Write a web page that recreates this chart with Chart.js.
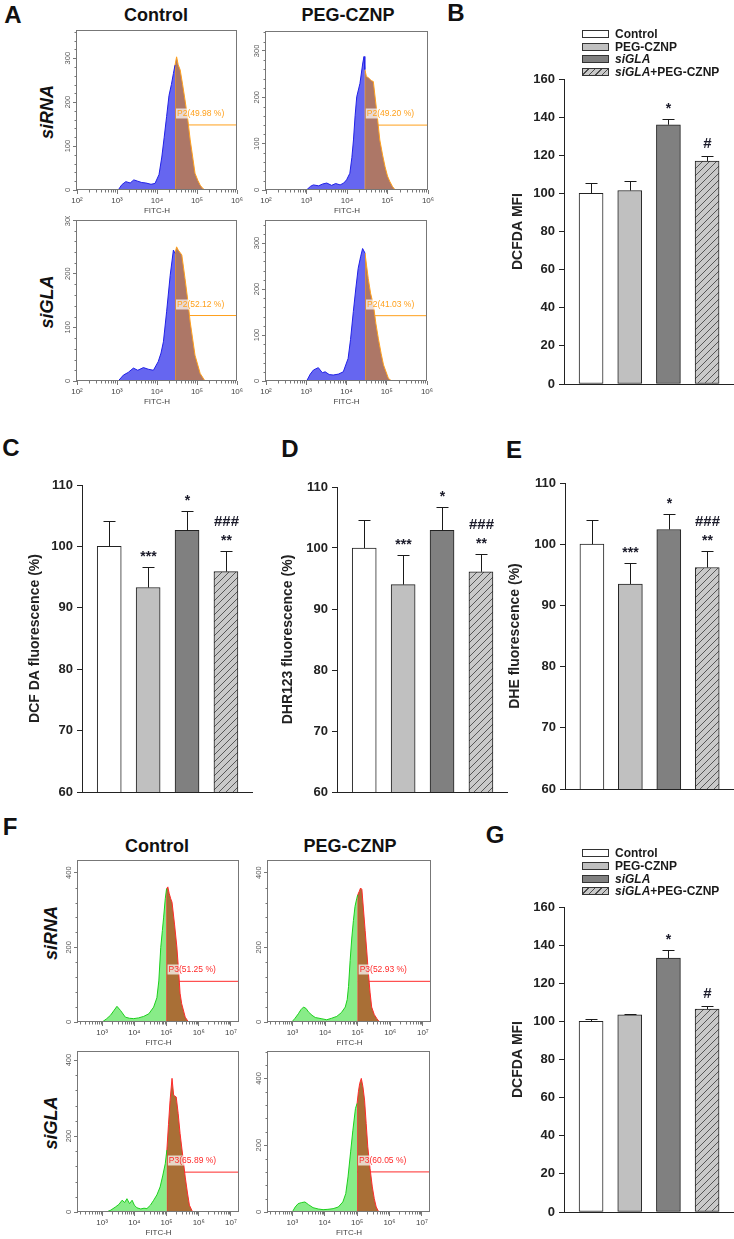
<!DOCTYPE html>
<html lang="en">
<head>
<meta charset="UTF-8">
<meta name="viewport" content="width=device-width, initial-scale=1.0">
<title>GLA knockdown ROS panels</title>
<script src="https://cdn.jsdelivr.net/npm/chart.js"></script>
<style>
  body { margin: 0; background: #fff; }
  #fig { position: relative; width: 734px; height: 1239px; overflow: hidden;
         font-family: "Liberation Sans", Arial, sans-serif; color: #111; }
  #fig canvas { position: absolute; }
  .t { position: absolute; white-space: nowrap; font-weight: bold; line-height: 1;
       transform: translate(-50%, -50%); }
  .letter { font-size: 24px; }
  .col { font-size: 18px; }
  .row { font-size: 18px; font-style: italic; transform: translate(-50%, -50%) rotate(-90deg); }
  .leg { position: absolute; left: 582px; height: 12px; font-size: 12px; font-weight: bold; line-height: 12px; color: #1a1a1a; }
  .leg .box { position: absolute; left: 0; top: 2px; width: 25px; height: 6px; border: 1px solid #333; }
  .leg .lab { position: absolute; left: 33px; white-space: nowrap; }
</style>
</head>
<body>
<div id="fig">
  <div class="t letter" style="left:13px;top:15px">A</div>
  <div class="t letter" style="left:456px;top:13px">B</div>
  <div class="t letter" style="left:11px;top:448px">C</div>
  <div class="t letter" style="left:290px;top:449px">D</div>
  <div class="t letter" style="left:514px;top:450px">E</div>
  <div class="t letter" style="left:10px;top:827px">F</div>
  <div class="t letter" style="left:495px;top:835px">G</div>

  <div class="t col" style="left:156px;top:15px">Control</div>
  <div class="t col" style="left:348px;top:15px">PEG-CZNP</div>
  <div class="t col" style="left:157px;top:846px">Control</div>
  <div class="t col" style="left:350px;top:846px">PEG-CZNP</div>

  <div class="t row" style="left:47px;top:112px">siRNA</div>
  <div class="t row" style="left:47px;top:302px">siGLA</div>
  <div class="t row" style="left:51px;top:933px">siRNA</div>
  <div class="t row" style="left:51px;top:1123px">siGLA</div>

  <canvas id="a1"></canvas><canvas id="a2"></canvas>
  <canvas id="a3"></canvas><canvas id="a4"></canvas>
  <canvas id="chartB"></canvas>
  <canvas id="chartC"></canvas><canvas id="chartD"></canvas><canvas id="chartE"></canvas>
  <canvas id="f1"></canvas><canvas id="f2"></canvas>
  <canvas id="f3"></canvas><canvas id="f4"></canvas>
  <canvas id="chartG"></canvas>
</div>
<script>
Chart.defaults.font.family = '"Liberation Sans", Arial, sans-serif';

// ---- bar panels ----
const groups = ['Control', 'PEG-CZNP', 'siGLA', 'siGLA+PEG-CZNP'];
const groupPos = [1, 2, 3, 4];

const mfiB = [100, 101.5, 136, 117];
const mfiBErr = [5.5, 5, 3.2, 2.5];
const starsB = ['', '', '*', ''];
const hashB = ['', '', '', '#'];

const dcfC = [100, 93.3, 102.6, 95.9];
const dcfCErr = [4.2, 3.3, 3.1, 3.3];
const dhrD = [100, 94.0, 102.9, 96.1];
const dhrDErr = [4.6, 4.9, 3.9, 2.9];
const dheE = [100, 93.5, 102.4, 96.2];
const dheEErr = [4.0, 3.4, 2.5, 2.7];
const starsCDE = ['', '***', '*', '**'];
const hashCDE = ['', '', '', '###'];

const mfiG = [100, 103.4, 133.2, 106.5];
const mfiGErr = [1.5, 0.4, 4.4, 1.4];
const starsG = ['', '', '*', ''];
const hashG = ['', '', '', '#'];

const ticksMfi = [0, 20, 40, 60, 80, 100, 120, 140, 160];
const ticksPct = [60, 70, 80, 90, 100, 110];

// ---- flow cytometry histograms (x = log10 FITC-H, y = count) ----
const xTicksA = [2, 3, 4, 5, 6];
const yTicksA = [0, 100, 200, 300];
const xTicksF = [3, 4, 5, 6, 7];
const yTicksF = [0, 200, 400];

const a1Log = [3.03, 3.12, 3.22, 3.33, 3.42, 3.52, 3.62, 3.72, 3.85, 3.95, 4.05, 4.12, 4.18, 4.24, 4.30, 4.36, 4.41, 4.45, 4.49, 4.53, 4.58, 4.64, 4.70, 4.77, 4.83, 4.90, 4.95, 5.02, 5.08, 5.14, 5.20];
const a1Count = [0, 12, 19, 16, 23, 20, 17, 16, 13, 15, 35, 75, 120, 167, 215, 240, 265, 284, 303, 285, 273, 240, 205, 160, 114, 70, 38, 22, 11, 4, 0];
const a2Log = [3.00, 3.10, 3.17, 3.30, 3.40, 3.50, 3.62, 3.72, 3.83, 3.92, 3.99, 4.07, 4.12, 4.16, 4.20, 4.24, 4.32, 4.39, 4.42, 4.44, 4.48, 4.53, 4.60, 4.65, 4.73, 4.81, 4.88, 4.94, 5.00, 5.06, 5.12, 5.19];
const a2Count = [0, 8, 11, 9, 13, 15, 10, 14, 11, 15, 22, 36, 70, 108, 160, 201, 230, 274, 288, 260, 245, 242, 236, 234, 173, 108, 75, 50, 30, 18, 8, 0];
const a3Log = [3.03, 3.16, 3.28, 3.41, 3.52, 3.66, 3.78, 3.91, 4.03, 4.10, 4.16, 4.24, 4.33, 4.41, 4.45, 4.49, 4.53, 4.62, 4.70, 4.77, 4.83, 4.95, 5.08, 5.20];
const a3Count = [0, 11, 16, 24, 20, 25, 22, 20, 36, 52, 73, 129, 197, 244, 238, 250, 244, 235, 191, 150, 110, 48, 14, 0];
const a4Log = [3.01, 3.10, 3.18, 3.30, 3.40, 3.47, 3.57, 3.67, 3.80, 3.92, 4.04, 4.10, 4.17, 4.23, 4.29, 4.35, 4.40, 4.46, 4.50, 4.54, 4.60, 4.67, 4.73, 4.79, 4.86, 4.92, 5.04, 5.12];
const a4Count = [0, 15, 24, 29, 18, 20, 14, 13, 15, 20, 49, 90, 151, 200, 245, 270, 288, 278, 250, 223, 190, 165, 125, 93, 60, 35, 6, 0];
const aGate = [4.45, 4.44, 4.45, 4.46];
const aGateY = [148, 140, 122, 142];
const aPct = ['49.98', '49.20', '52.12', '41.03'];
const aYMax = [364, 343, 300, 350];

const f1Log = [3.00, 3.13, 3.26, 3.36, 3.46, 3.57, 3.72, 3.85, 3.98, 4.13, 4.29, 4.45, 4.60, 4.70, 4.76, 4.82, 4.87, 4.91, 4.96, 5.00, 5.04, 5.08, 5.13, 5.17, 5.25, 5.32, 5.38, 5.42, 5.47, 5.58, 5.68];
const f1Count = [0, 8, 18, 30, 42, 31, 13, 10, 9, 11, 15, 22, 40, 65, 110, 200, 245, 281, 330, 357, 362, 345, 330, 321, 260, 201, 130, 77, 49, 13, 0];
const f2Log = [2.98, 3.08, 3.18, 3.26, 3.34, 3.42, 3.49, 3.60, 3.70, 3.88, 4.05, 4.20, 4.36, 4.50, 4.62, 4.68, 4.72, 4.77, 4.82, 4.87, 4.92, 4.97, 5.00, 5.05, 5.09, 5.13, 5.18, 5.23, 5.28, 5.33, 5.38, 5.43, 5.51, 5.59, 5.67];
const f2Count = [0, 10, 22, 33, 40, 36, 27, 18, 12, 9, 6, 10, 15, 25, 40, 60, 95, 165, 225, 272, 310, 330, 340, 350, 359, 355, 300, 245, 190, 130, 80, 40, 20, 9, 0];
const f3Log = [3.13, 3.27, 3.41, 3.52, 3.62, 3.70, 3.77, 3.85, 3.93, 4.00, 4.08, 4.20, 4.30, 4.39, 4.50, 4.60, 4.70, 4.80, 4.88, 4.96, 5.01, 5.06, 5.11, 5.17, 5.22, 5.26, 5.30, 5.36, 5.42, 5.50, 5.58, 5.65, 5.71, 5.81];
const f3Count = [0, 5, 13, 20, 31, 25, 35, 22, 31, 18, 11, 8, 10, 9, 18, 31, 45, 66, 95, 127, 163, 230, 294, 352, 308, 305, 303, 260, 207, 150, 92, 50, 18, 0];
const f4Log = [3.00, 3.09, 3.18, 3.28, 3.39, 3.50, 3.64, 3.80, 3.95, 4.10, 4.26, 4.42, 4.56, 4.65, 4.72, 4.80, 4.87, 4.95, 5.00, 5.04, 5.08, 5.13, 5.18, 5.23, 5.28, 5.33, 5.40, 5.47, 5.53, 5.59, 5.67];
const f4Count = [0, 15, 25, 28, 30, 22, 13, 9, 7, 8, 10, 15, 30, 55, 105, 180, 245, 310, 325, 360, 385, 400, 375, 335, 265, 195, 130, 75, 40, 15, 0];
const fGate = [5.00, 5.00, 5.01, 5.00];
const fGateY = [109, 109, 105, 120];
const fPct = ['51.25', '52.93', '65.89', '60.05'];
const fYMax = [434, 434, 424, 482];

const sup = { 2: '\u00b2', 3: '\u00b3', 4: '\u2074', 5: '\u2075', 6: '\u2076', 7: '\u2077' };
const palA = { fillLo: '#6666f0', lineLo: '#2020e8', fillHi: '#ad7767', lineHi: '#ffa01c' };
const palF = { fillLo: '#88ec88', lineLo: '#1ccf1c', fillHi: '#a96f36', lineHi: '#ff2a2a' };

function hatchPattern() {
  const c = document.createElement('canvas');
  c.width = 7; c.height = 7;
  const g = c.getContext('2d');
  g.fillStyle = '#c9c9c9'; g.fillRect(0, 0, 7, 7);
  g.strokeStyle = '#4a4a4a'; g.lineWidth = 0.9;
  g.beginPath();
  g.moveTo(-1, 8); g.lineTo(8, -1);
  g.moveTo(-1, 1); g.lineTo(1, -1);
  g.moveTo(6, 8); g.lineTo(8, 6);
  g.stroke();
  return g.createPattern(c, 'repeat');
}
const barFills = ['#ffffff', '#c0c0c0', '#808080', hatchPattern()];
const legendFills = ['#ffffff', '#c0c0c0', '#808080',
  'repeating-linear-gradient(135deg, #c9c9c9 0 3.5px, #4a4a4a 3.5px 4.5px)'];

function legend(top) {
  const fig = document.getElementById('fig');
  groups.forEach((g, i) => {
    const row = document.createElement('div');
    row.className = 'leg';
    row.style.top = (top + i * 12.7 - 6) + 'px';
    const box = document.createElement('span');
    box.className = 'box';
    box.style.background = legendFills[i];
    const lab = document.createElement('span');
    lab.className = 'lab';
    lab.innerHTML = g.replace('siGLA', '<i>siGLA</i>');
    row.append(box, lab);
    fig.append(row);
  });
}

function barChart(id, box, vals, errs, stars, hashes, yTicks, title) {
  const padTop = 12, padBottom = 10, xAxisH = 2;
  const cv = document.getElementById(id);
  const left = box.l - box.axisW, top = box.t - padTop;
  cv.width = box.r + 1 - left;
  cv.height = box.b + xAxisH + padBottom - top;
  cv.style.left = left + 'px';
  cv.style.top = top + 'px';

  // error bars and significance marks
  const marks = {
    id: 'marks',
    afterDatasetsDraw(chart) {
      const { ctx, scales: { x, y } } = chart;
      ctx.save();
      ctx.strokeStyle = '#1a1a1a';
      ctx.lineWidth = 1;
      vals.forEach((v, i) => {
        const px = Math.round(x.getPixelForValue(groupPos[i])) + 0.5;
        const yb = y.getPixelForValue(v);
        const ye = Math.round(y.getPixelForValue(v + errs[i])) + 0.5;
        ctx.beginPath();
        ctx.moveTo(px, yb); ctx.lineTo(px, ye);
        ctx.moveTo(px - 6, ye); ctx.lineTo(px + 6, ye);
        ctx.stroke();
        ctx.fillStyle = '#1b1b2a';
        ctx.textAlign = 'center';
        ctx.textBaseline = 'middle';
        let yy = ye - 13;
        if (stars[i]) {
          ctx.font = 'bold 14px "Liberation Sans", Arial';
          ctx.fillText(stars[i], px, yy + 3);
          yy -= 17;
        }
        if (hashes[i]) {
          ctx.font = 'bold 15px "Liberation Sans", Arial';
          ctx.fillText(hashes[i], px, yy);
        }
      });
      ctx.restore();
    }
  };

  new Chart(cv, {
    type: 'bar',
    data: {
      datasets: [{
        data: vals.map((v, i) => ({ x: groupPos[i], y: v })),
        backgroundColor: barFills,
        borderColor: '#222',
        borderWidth: 1,
        borderSkipped: false,
        barThickness: 24
      }]
    },
    options: {
      responsive: false, animation: false, devicePixelRatio: 1,
      layout: { padding: { top: padTop, right: 1, bottom: padBottom, left: 0 } },
      plugins: { legend: { display: false }, tooltip: { enabled: false } },
      scales: {
        x: {
          type: 'linear', min: 0.3, max: 4.67, offset: false,
          ticks: { display: false }, grid: { display: false },
          border: { color: '#222' },
          afterFit: s => { s.height = xAxisH; }
        },
        y: {
          min: yTicks[0], max: yTicks[yTicks.length - 1],
          afterBuildTicks: s => { s.ticks = yTicks.map(v => ({ value: v })); },
          ticks: { font: { size: 13, weight: 'bold' }, color: '#222', padding: 4 },
          grid: { drawOnChartArea: false, tickLength: 5, color: '#222' },
          border: { color: '#222' },
          title: { display: true, text: title, font: { size: 14, weight: 'bold' }, color: '#222', padding: 0 },
          afterFit: s => { s.width = box.axisW; }
        }
      }
    },
    plugins: [marks]
  });
}

function histChart(id, h) {
  const axisW = 24, padTop = 4, padRight = 10, xAxisH = 26;
  const cv = document.getElementById(id);
  const left = h.box.l - axisW, top = h.box.t - padTop;
  cv.width = h.box.r - left + padRight;
  cv.height = h.box.b + xAxisH - top;
  cv.style.left = left + 'px';
  cv.style.top = top + 'px';

  const pts = h.logs.map((x, i) => ({ x: x, y: h.counts[i] }));
  const below = pts.filter(p => p.x <= h.gate);
  const above = [{ x: h.gate, y: 0 }].concat(pts.filter(p => p.x >= h.gate));

  const deco = {
    id: 'deco',
    afterDatasetsDraw(chart) {
      const { ctx, scales: { x, y } } = chart;
      const gx = x.getPixelForValue(h.gate);
      const gy = Math.round(y.getPixelForValue(h.gateY)) + 0.5;
      ctx.save();
      if (h.endTick) {
        ctx.strokeStyle = h.pal.lineHi;
        ctx.lineWidth = 1;
        const ex = x.getPixelForValue(h.xMax) - 0.5;
        ctx.beginPath(); ctx.moveTo(ex, gy - 4); ctx.lineTo(ex, gy + 4); ctx.stroke();
      }
      ctx.font = '8.5px "Liberation Sans", Arial';
      const w = ctx.measureText(h.label).width;
      ctx.fillStyle = 'rgba(255,255,255,0.72)';
      ctx.fillRect(gx + 1, gy - 17, w + 2, 10);
      ctx.fillStyle = h.pal.lineHi;
      ctx.textBaseline = 'middle';
      ctx.fillText(h.label, gx + 2, gy - 12);
      ctx.restore();
    },
    afterDraw(chart) {
      const { ctx, chartArea: a, scales: { x, y } } = chart;
      ctx.save();
      ctx.strokeStyle = '#777';
      ctx.lineWidth = 1;
      ctx.beginPath();
      for (let n = Math.floor(h.xMin); n < h.xMax; n++) {
        for (let k = 2; k < 10; k++) {
          const v = n + Math.log10(k);
          if (v <= h.xMin || v >= h.xMax) continue;
          const px = Math.round(x.getPixelForValue(v)) + 0.5;
          ctx.moveTo(px, a.bottom); ctx.lineTo(px, a.bottom + 2.5);
        }
      }
      for (let v = h.yMinor; v < h.yMax; v += h.yMinor) {
        if (h.yTicks.includes(v)) continue;
        const py = Math.round(y.getPixelForValue(v)) + 0.5;
        ctx.moveTo(a.left, py); ctx.lineTo(a.left - 2.5, py);
      }
      ctx.stroke();
      const L = Math.round(a.left) - 0.5, R = Math.round(a.right) - 0.5;
      const T = Math.round(a.top) + 0.5, B = Math.round(a.bottom) - 0.5;
      ctx.strokeRect(L, T, R - L, B - T);
      ctx.fillStyle = '#555';
      ctx.font = '7.5px "Liberation Sans", Arial';
      ctx.textAlign = 'center';
      ctx.textBaseline = 'middle';
      y.ticks.forEach(t => {
        ctx.save();
        ctx.translate(a.left - 9, y.getPixelForValue(t.value));
        ctx.rotate(-Math.PI / 2);
        ctx.fillText(String(t.value), 0, 0);
        ctx.restore();
      });
      ctx.restore();
    }
  };

  new Chart(cv, {
    type: 'line',
    data: {
      datasets: [
        { data: below, borderColor: h.pal.lineLo, backgroundColor: h.pal.fillLo, fill: 'origin' },
        { data: above, borderColor: h.pal.lineHi, backgroundColor: h.pal.fillHi, fill: 'origin' },
        { data: [{ x: h.gate, y: h.gateY }, { x: h.xMax, y: h.gateY }], borderColor: h.pal.lineHi, fill: false }
      ]
    },
    options: {
      responsive: false, animation: false, devicePixelRatio: 1,
      layout: { padding: { top: padTop, right: padRight, bottom: 0, left: 0 } },
      elements: { point: { radius: 0 }, line: { borderWidth: 1, tension: 0 } },
      plugins: { legend: { display: false }, tooltip: { enabled: false } },
      scales: {
        x: {
          type: 'linear', min: h.xMin, max: h.xMax,
          afterBuildTicks: s => { s.ticks = h.xTicks.map(v => ({ value: v })); },
          ticks: { callback: v => '10' + sup[v], font: { size: 8 }, color: '#444', padding: 2, maxRotation: 0, autoSkip: false },
          grid: { drawOnChartArea: false, tickLength: 4, color: '#777' },
          border: { display: false },
          title: { display: true, text: 'FITC-H', font: { size: 8 }, color: '#444', padding: 0 },
          afterFit: s => { s.height = xAxisH; }
        },
        y: {
          min: 0, max: h.yMax,
          afterBuildTicks: s => { s.ticks = h.yTicks.map(v => ({ value: v })); },
          ticks: { display: false },
          grid: { drawOnChartArea: false, tickLength: 4, color: '#777' },
          border: { display: false },
          afterFit: s => { s.width = axisW; }
        }
      }
    },
    plugins: [deco]
  });
}

// panel A
const aBoxes = [{ l: 77, t: 30, r: 237, b: 190 }, { l: 266, t: 31, r: 428, b: 190 },
                { l: 77, t: 220, r: 237, b: 381 }, { l: 266, t: 220, r: 427, b: 381 }];
const aLogs = [a1Log, a2Log, a3Log, a4Log];
const aCounts = [a1Count, a2Count, a3Count, a4Count];
['a1', 'a2', 'a3', 'a4'].forEach((id, i) => histChart(id, {
  box: aBoxes[i], xMin: 2, xMax: 6, yMax: aYMax[i], xTicks: xTicksA, yTicks: yTicksA, yMinor: 20,
  logs: aLogs[i], counts: aCounts[i], gate: aGate[i], gateY: aGateY[i],
  label: 'P2(' + aPct[i] + ' %)', pal: palA, endTick: true
}));

// panel F
const fBoxes = [{ l: 78, t: 860, r: 239, b: 1022 }, { l: 268, t: 860, r: 431, b: 1022 },
                { l: 78, t: 1051, r: 239, b: 1212 }, { l: 268, t: 1051, r: 430, b: 1212 }];
const fLogs = [f1Log, f2Log, f3Log, f4Log];
const fCounts = [f1Count, f2Count, f3Count, f4Count];
['f1', 'f2', 'f3', 'f4'].forEach((id, i) => histChart(id, {
  box: fBoxes[i], xMin: 2.25, xMax: 7.25, yMax: fYMax[i], xTicks: xTicksF, yTicks: yTicksF, yMinor: 40,
  logs: fLogs[i], counts: fCounts[i], gate: fGate[i], gateY: fGateY[i],
  label: 'P3(' + fPct[i] + ' %)', pal: palF, endTick: false
}));

// bar panels
barChart('chartB', { l: 564, t: 79, r: 733, b: 384, axisW: 54 }, mfiB, mfiBErr, starsB, hashB, ticksMfi, 'DCFDA MFI');
barChart('chartC', { l: 82, t: 485, r: 252, b: 792, axisW: 55 }, dcfC, dcfCErr, starsCDE, hashCDE, ticksPct, 'DCF DA fluorescence (%)');
barChart('chartD', { l: 337, t: 487, r: 507, b: 792, axisW: 57 }, dhrD, dhrDErr, starsCDE, hashCDE, ticksPct, 'DHR123 fluorescence (%)');
barChart('chartE', { l: 565, t: 483, r: 733, b: 789, axisW: 58 }, dheE, dheEErr, starsCDE, hashCDE, ticksPct, 'DHE fluorescence (%)');
barChart('chartG', { l: 564, t: 907, r: 733, b: 1212, axisW: 54 }, mfiG, mfiGErr, starsG, hashG, ticksMfi, 'DCFDA MFI');

legend(34);
legend(853.3);
</script>
</body>
</html>
